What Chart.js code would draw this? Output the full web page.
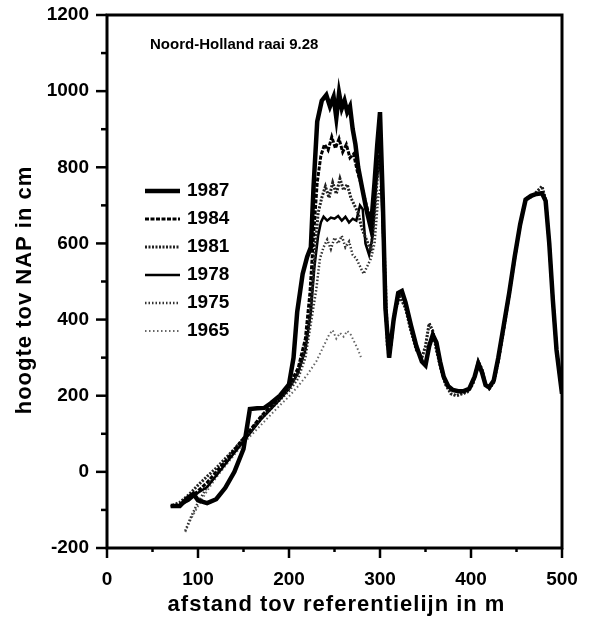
<!DOCTYPE html>
<html>
<head>
<meta charset="utf-8">
<script src="https://cdn.jsdelivr.net/npm/chart.js@4.4.1/dist/chart.umd.min.js"></script>
<style>
  html, body { margin: 0; padding: 0; background: #fff; }
  canvas { display: block; }
</style>
</head>
<body>
<canvas id="profiel" width="589" height="624"></canvas>
<script>
// ── Data ──────────────────────────────────────────────────────────────────────
const TITEL   = 'Noord-Holland raai 9.28';
const X_TITEL = 'afstand tov referentielijn in m';
const Y_TITEL = 'hoogte tov NAP in cm';
const JAREN   = ['1987', '1984', '1981', '1978', '1975', '1965'];

const X_TICKS = [0, 100, 200, 300, 400, 500];
const Y_TICKS = [-200, 0, 200, 400, 600, 800, 1000, 1200];

// gemeenschappelijk verloop achter de duinvoet (doorgetrokken lijnen)
const staartX = [315, 320, 324, 328, 334, 340, 346, 350, 354, 358, 362, 366, 370, 375, 380, 386, 392, 398, 404, 408, 412, 416, 420, 425, 430, 436, 442, 448, 454, 460, 466, 472, 478, 482, 486, 490, 494, 500];
const staartY = [400, 470, 475, 445, 385, 330, 290, 280, 330, 360, 340, 290, 250, 225, 215, 212, 212, 218, 250, 285, 262, 228, 222, 240, 300, 385, 470, 565, 650, 715, 725, 730, 732, 712, 600, 450, 320, 205];
// idem voor de gestippelde lijnen
const staartStipX = [312, 316, 322, 328, 334, 340, 346, 350, 354, 358, 362, 368, 372, 378, 384, 390, 396, 402, 408, 412, 416, 420, 425, 430, 436, 442, 448, 454, 460, 466, 472, 478, 482, 486, 490, 494, 500];
const staartStipY = [330, 420, 460, 430, 370, 320, 300, 330, 390, 370, 320, 260, 230, 205, 200, 205, 210, 230, 290, 270, 230, 218, 235, 290, 375, 465, 560, 650, 718, 722, 735, 750, 715, 600, 450, 320, 205];

const x1987 = [70, 80, 88, 95, 100, 110, 120, 130, 140, 150, 157, 165, 173, 180, 190, 200, 205, 209, 215, 220, 224, 227, 231, 236, 241, 245, 249, 252, 255, 258, 261, 264, 267, 270, 273, 276, 280, 285, 290, 294, 297, 300, 303, 306, 310];
const h1987 = [-90, -90, -70, -58, -75, -82, -72, -42, 0, 60, 165, 167, 168, 180, 200, 230, 300, 420, 520, 565, 590, 750, 920, 975, 990, 960, 985, 930, 995, 955, 975, 945, 960, 900, 860, 800, 750, 690, 640, 760, 860, 945, 720, 430, 300];

const x1984 = [70, 80, 90, 100, 110, 120, 130, 140, 150, 160, 170, 180, 190, 200, 210, 218, 223, 227, 231, 235, 239, 243, 247, 251, 255, 259, 263, 267, 271, 275, 280, 285, 290, 294, 297, 300, 303, 306, 310];
const h1984 = [-90, -88, -72, -50, -28, 0, 28, 58, 88, 118, 148, 172, 198, 228, 272, 350, 470, 620, 760, 830, 860, 845, 880, 850, 875, 840, 860, 825, 835, 790, 750, 700, 660, 730, 820, 880, 700, 420, 300];

const x1981 = [72, 80, 90, 100, 110, 120, 130, 140, 150, 160, 170, 180, 190, 200, 210, 218, 224, 228, 232, 236, 240, 244, 248, 252, 256, 260, 264, 268, 272, 276, 280, 285, 290, 294, 298, 301, 304, 308];
const h1981 = [-88, -80, -60, -35, -12, 10, 35, 60, 88, 115, 145, 170, 195, 222, 262, 330, 430, 560, 680, 720, 750, 720, 760, 730, 770, 740, 755, 720, 700, 680, 640, 610, 580, 680, 800, 830, 600, 330];

const x1978 = [70, 80, 90, 100, 110, 120, 130, 140, 150, 160, 170, 180, 190, 200, 210, 218, 224, 228, 232, 235, 238, 242, 246, 250, 254, 258, 262, 266, 270, 274, 278, 281, 284, 288, 292, 296, 300, 303, 306, 310];
const h1978 = [-90, -88, -75, -55, -40, -10, 20, 50, 80, 110, 140, 165, 190, 218, 260, 320, 420, 540, 620, 655, 670, 660, 668, 665, 672, 660, 670, 655, 665, 660, 700, 690, 600, 570, 620, 760, 830, 650, 420, 300];

const x1975 = [86, 92, 100, 110, 120, 130, 140, 150, 160, 170, 180, 190, 200, 210, 218, 224, 230, 234, 238, 242, 246, 250, 254, 258, 262, 266, 270, 274, 278, 282, 286, 290, 294, 298, 302, 306, 309];
const h1975 = [-155, -120, -80, -40, -5, 25, 55, 85, 112, 140, 165, 188, 212, 245, 300, 390, 480, 560, 590, 610, 585, 615, 600, 620, 590, 605, 570, 560, 540, 520, 540, 560, 600, 720, 760, 520, 310];

const x1965 = [86, 92, 100, 110, 120, 130, 140, 150, 160, 170, 180, 190, 200, 210, 220, 230, 238, 244, 248, 252, 256, 260, 264, 268, 272, 276, 280];
const h1965 = [-158, -125, -90, -50, -15, 15, 45, 75, 100, 125, 150, 175, 198, 225, 255, 290, 330, 360, 372, 350, 365, 355, 370, 360, 340, 320, 295];

// ── Opbouw ───────────────────────────────────────────────────────────────────
const FONT = "'Liberation Sans', Arial, Helvetica, sans-serif";

function punten(xs, ys) {
  return xs.map((x, i) => ({ x, y: ys[i] }));
}

const STIJL = [
  { color: '#000', width: 4.5, dash: [] },          // 1987
  { color: '#000', width: 3,   dash: [4, 1.5] },    // 1984
  { color: '#222', width: 3,   dash: [2, 1.5] },    // 1981
  { color: '#000', width: 2.5, dash: [] },          // 1978
  { color: '#333', width: 2.5, dash: [1.5, 2] },    // 1975
  { color: '#666', width: 2,   dash: [1.5, 2.5] },  // 1965
];

const reeksen = [
  punten(x1987.concat(staartX), h1987.concat(staartY)),
  punten(x1984.concat(staartX), h1984.concat(staartY)),
  punten(x1981.concat(staartStipX), h1981.concat(staartStipY)),
  punten(x1978.concat(staartX), h1978.concat(staartY)),
  punten(x1975.concat(staartStipX), h1975.concat(staartStipY)),
  punten(x1965, h1965),
];

const datasets = reeksen.map((data, i) => ({
  label: JAREN[i],
  data,
  borderColor: STIJL[i].color,
  borderWidth: STIJL[i].width,
  borderDash: STIJL[i].dash,
  pointRadius: 0,
  tension: 0,
  fill: false,
  order: i,
}));

// kader, tickstreepjes, titels en legenda
const kader = {
  id: 'kader',
  afterDraw(chart) {
    const { ctx, chartArea: a, scales: { x, y } } = chart;
    ctx.save();
    ctx.strokeStyle = '#000';
    ctx.lineWidth = 3;
    ctx.strokeRect(a.left, a.top, a.right - a.left, a.bottom - a.top);

    ctx.lineWidth = 2.5;
    for (let v = -200; v <= 1200; v += 100) {
      const py = y.getPixelForValue(v);
      const len = v % 200 === 0 ? 11 : 6;
      ctx.beginPath(); ctx.moveTo(a.left, py); ctx.lineTo(a.left - len, py); ctx.stroke();
    }
    for (let v = 0; v <= 500; v += 50) {
      const px = x.getPixelForValue(v);
      const len = v % 100 === 0 ? 10 : 4;
      ctx.beginPath(); ctx.moveTo(px, a.bottom); ctx.lineTo(px, a.bottom + len); ctx.stroke();
    }

    ctx.fillStyle = '#000';
    ctx.textBaseline = 'middle';
    ctx.font = 'bold 15px ' + FONT;
    ctx.textAlign = 'left';
    ctx.fillText(TITEL, 150, 45);

    ctx.font = 'bold 22px ' + FONT;
    ctx.letterSpacing = '1px';
    ctx.textAlign = 'center';
    ctx.fillText(X_TITEL, (a.left + a.right) / 2 + 2, 605);
    ctx.save();
    ctx.translate(25, 290);
    ctx.rotate(-Math.PI / 2);
    ctx.fillText(Y_TITEL, 0, 0);
    ctx.restore();
    ctx.letterSpacing = '0px';

    // legenda
    ctx.font = 'bold 19px ' + FONT;
    ctx.textAlign = 'left';
    chart.data.datasets.forEach((ds, i) => {
      const ly = 191 + i * 28;
      ctx.strokeStyle = ds.borderColor;
      ctx.lineWidth = ds.borderWidth;
      ctx.setLineDash(ds.borderDash);
      ctx.beginPath(); ctx.moveTo(145, ly); ctx.lineTo(180, ly); ctx.stroke();
      ctx.setLineDash([]);
      ctx.fillText(ds.label, 187, ly);
    });
    ctx.restore();
  },
};

const tickFont = { family: FONT, size: 19, weight: 'bold' };

new Chart(document.getElementById('profiel').getContext('2d'), {
  type: 'line',
  data: { datasets },
  options: {
    responsive: false,
    animation: false,
    devicePixelRatio: 1,
    layout: { padding: { top: 15, right: 27, left: 0, bottom: 0 } },
    plugins: {
      legend: { display: false },
      tooltip: { enabled: false },
      title: { display: false },
    },
    scales: {
      x: {
        type: 'linear', min: 0, max: 500,
        afterFit: s => { s.height = 76; s.paddingLeft = 0; s.paddingRight = 0; },
        afterBuildTicks: s => { s.ticks = X_TICKS.map(value => ({ value })); },
        ticks: { padding: 20, color: '#000', font: tickFont, maxRotation: 0, callback: v => String(v) },
        grid: { display: false, drawTicks: false },
        border: { display: false },
      },
      y: {
        type: 'linear', min: -200, max: 1200,
        afterFit: s => { s.width = 107; s.paddingTop = 0; s.paddingBottom = 0; },
        afterBuildTicks: s => { s.ticks = Y_TICKS.map(value => ({ value })); },
        ticks: { padding: 18, color: '#000', font: tickFont, callback: v => String(v) },
        grid: { display: false, drawTicks: false },
        border: { display: false },
      },
    },
  },
  plugins: [kader],
});
</script>
</body>
</html>
